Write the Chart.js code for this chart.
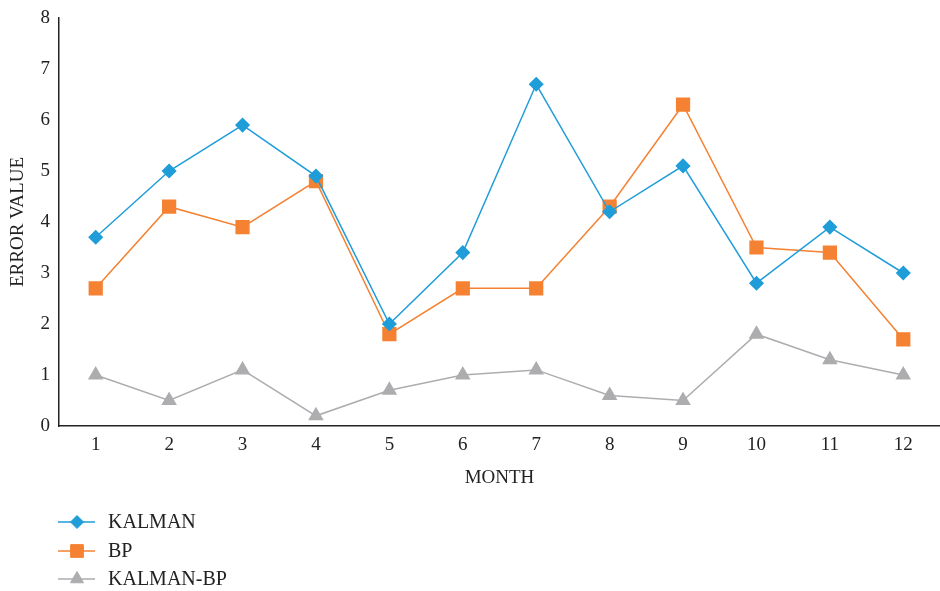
<!DOCTYPE html>
<html>
<head>
<meta charset="utf-8">
<script src="https://cdn.jsdelivr.net/npm/chart.js@4/dist/chart.umd.min.js"></script>
<style>
  html, body { margin: 0; padding: 0; background: #fff; }
  #wrap { width: 940px; height: 591px; }
</style>
</head>
<body>
<div id="wrap"><canvas id="chart" width="940" height="591"></canvas></div>
<script>
var months = ['1', '2', '3', '4', '5', '6', '7', '8', '9', '10', '11', '12'];
var kalman = [3.7, 5.0, 5.9, 4.9, 2.0, 3.4, 6.7, 4.2, 5.1, 2.8, 3.9, 3.0];
var bp = [2.7, 4.3, 3.9, 4.8, 1.8, 2.7, 2.7, 4.3, 6.3, 3.5, 3.4, 1.7];
var kalmanBp = [1.0, 0.5, 1.1, 0.2, 0.7, 1.0, 1.1, 0.6, 0.5, 1.8, 1.3, 1.0];

var serif = "'Liberation Serif', 'DejaVu Serif', serif";
var blue = '#1f9dd9', orange = '#f58232', grey = '#adadb0';

// legend drawn by hand: line through the marker, stacked under the chart
var sideLegend = {
  id: 'sideLegend',
  afterDraw: function(chart) {
    var c = chart.ctx;
    var rows = [522, 551, 579];
    chart.data.datasets.forEach(function(ds, i) {
      var y = rows[i];
      c.save();
      c.strokeStyle = ds.borderColor;
      c.lineWidth = 1.5;
      c.beginPath();
      c.moveTo(58, y);
      c.lineTo(95, y);
      c.stroke();
      c.fillStyle = ds.pointBackgroundColor;
      c.strokeStyle = ds.pointBackgroundColor;
      c.lineWidth = 1;
      Chart.helpers.drawPoint(c, {pointStyle: ds.pointStyle, radius: ds.pointRadius, rotation: 0, borderWidth: 1}, 77, y);
      c.fillStyle = '#222';
      c.font = '20px ' + serif;
      c.textBaseline = 'middle';
      c.textAlign = 'left';
      c.fillText(ds.label, 108, y + 1);
      c.restore();
    });
  }
};

var ctx = document.getElementById('chart').getContext('2d');

new Chart(ctx, {
  type: 'line',
  data: {
    labels: months,
    datasets: [{
      label: 'KALMAN',
      data: kalman,
      borderColor: blue,
      backgroundColor: blue,
      pointBackgroundColor: blue,
      pointBorderColor: blue,
      pointStyle: 'rectRot',
      pointRadius: 6.5,
      borderWidth: 1.5
    }, {
      label: 'BP',
      data: bp,
      borderColor: orange,
      backgroundColor: orange,
      pointBackgroundColor: orange,
      pointBorderColor: orange,
      pointStyle: 'rect',
      pointRadius: 9,
      borderWidth: 1.5
    }, {
      label: 'KALMAN-BP',
      data: kalmanBp,
      borderColor: grey,
      backgroundColor: grey,
      pointBackgroundColor: grey,
      pointBorderColor: grey,
      pointStyle: 'triangle',
      pointRadius: 7.5,
      borderWidth: 1.5
    }]
  },
  options: {
    responsive: false,
    animation: false,
    layout: {
      autoPadding: false,
      padding: { top: 18, right: -3, bottom: 95, left: 0 }
    },
    plugins: {
      legend: { display: false },
      tooltip: { enabled: false }
    },
    scales: {
      x: {
        offset: true,
        grid: { display: false, drawTicks: false },
        border: { color: '#222', width: 1.5 },
        ticks: {
          color: '#222',
          padding: 8,
          maxRotation: 0,
          font: { family: serif, size: 19 }
        },
        title: {
          display: true,
          text: 'MONTH',
          color: '#222',
          padding: { top: 0, bottom: 7 },
          font: { family: serif, size: 19 }
        },
        afterFit: function(s) {
          s.height = 70;
          s.paddingLeft = 0;
          s.paddingRight = -3;
          s._margins.right = -3;
          s.width = s._length = s.chart.width - s._margins.left - s._margins.right;
        }
      },
      y: {
        min: 0,
        max: 8,
        grid: { display: false, drawTicks: false },
        border: { color: '#222', width: 1.5 },
        ticks: {
          stepSize: 1,
          color: '#222',
          padding: 9,
          font: { family: serif, size: 19 }
        },
        title: {
          display: true,
          text: 'ERROR VALUE',
          color: '#222',
          padding: { top: 7, bottom: 0 },
          font: { family: serif, size: 19 }
        },
        afterFit: function(s) {
          s.width = 59;
          s.paddingTop = 18;
          s._margins.top = 18;
          s.height = s._length = s.chart.height - s._margins.top - s._margins.bottom;
        }
      }
    }
  },
  plugins: [sideLegend]
});
</script>
</body>
</html>
